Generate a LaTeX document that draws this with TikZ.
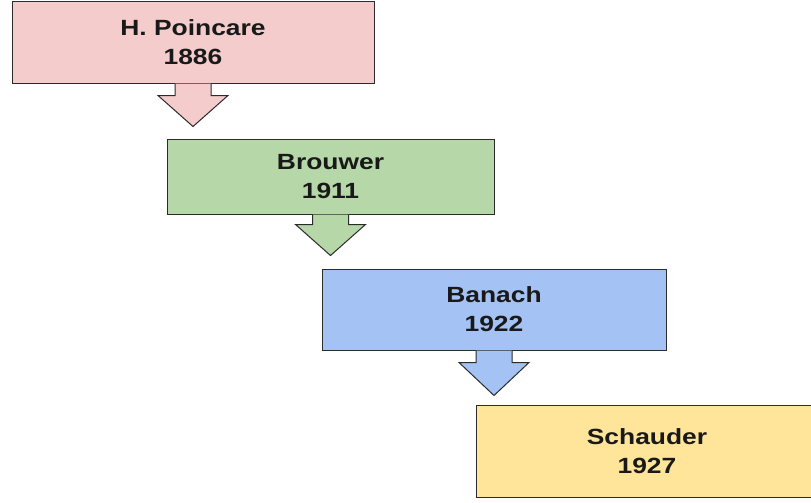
\documentclass[tikz,border=0pt]{standalone}
\usepackage{fontspec}
\newfontfamily\boxfont[FakeStretch=1.2]{Liberation Sans}
\definecolor{pinkbox}{HTML}{F4CCCC}
\definecolor{greenbox}{HTML}{B6D7A8}
\definecolor{bluebox}{HTML}{A4C2F4}
\definecolor{yellowbox}{HTML}{FFE599}
\definecolor{edge}{HTML}{2B2B2B}
\begin{document}
\begin{tikzpicture}[x=1pt,y=-1pt]
	\tikzset{b/.style={draw=edge, line width=1pt, rectangle, align=center, text=black!90, font=\boxfont\bfseries\fontsize{22}{29}\selectfont},
		a/.style={draw=edge, line width=1pt, line join=miter}};
	\useasboundingbox (0,0) rectangle (811,503);
	\node[b, fill=pinkbox, minimum width=362pt, minimum height=81pt] (poinc) at (193,42.5) {H. Poincare\\1886};
	\node[b, fill=greenbox, minimum width=327pt, minimum height=75pt] (brouw) at (330.5,176.5) {Brouwer\\1911};
	\node[b, fill=bluebox, minimum width=344pt, minimum height=81pt] (banach) at (494,309.5) {Banach\\1922};
	\node[b, fill=yellowbox, minimum width=342pt, minimum height=92pt] (schaud) at (647,451) {Schauder\\1927};

	\filldraw[a, fill=pinkbox] ([xshift=-18pt]poinc.south) -- ++(0,12) -- ++(-17,0) -- ++(35,31) -- ++(35,-31) -- ++(-17,0) -- ++(0,-12);
	\filldraw[a, fill=greenbox] ([xshift=-18pt]brouw.south) -- ++(0,10) -- ++(-17,0) -- ++(35,31) -- ++(35,-31) -- ++(-17,0) -- ++(0,-10);
	\filldraw[a, fill=bluebox] ([xshift=-18pt]banach.south) -- ++(0,12) -- ++(-17,0) -- ++(35,33) -- ++(35,-33) -- ++(-17,0) -- ++(0,-12);
\end{tikzpicture}
\end{document}
